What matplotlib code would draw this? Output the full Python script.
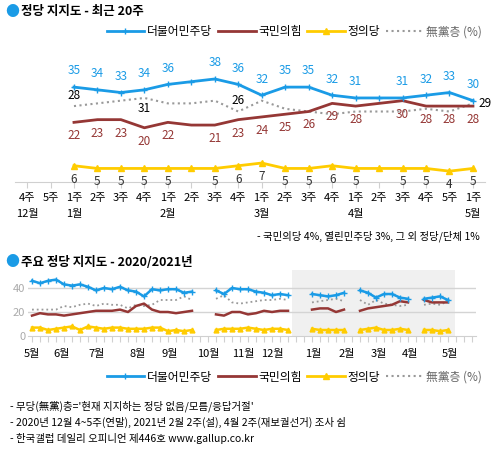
import numpy as np
import matplotlib
matplotlib.use("Agg")
import matplotlib.pyplot as plt
from matplotlib.transforms import blended_transform_factory as btf

plt.rcParams['font.family'] = ['Noto Sans CJK KR', 'DejaVu Sans']

BLUE = '#1a9be6'; RED = '#953735'; YEL = '#ffcc00'; GRAY = '#999999'
names = ['더불어민주당', '국민의힘', '정의당', '無黨층 (%)']

# ---- top chart data (last 20 weeks) ----
week_labels = ['4주','5주','1주','2주','3주','4주','1주','2주','3주','4주',
               '1주','2주','3주','4주','1주','2주','3주','4주','5주','1주']
month_labels_top = {0: '12월', 2: '1월', 6: '2월', 10: '3월', 14: '4월', 19: '5월'}
top_blue = [35,34,33,34,36,37,38,36,32,35,35,32,31,31,31,32,33,30]
top_red = [22,23,23,20,22,21,21,23,24,25,26,29,28,29,30,28,28,28]
top_gray = [28,29,30,31,29,29,30,26,30,27,26,25,26,26,26,27,26,29]
top_yel = [6,5,5,5,5,5,5,6,7,5,5,6,5,5,5,5,4,5]
unlabeled = [5, 13]

# ---- bottom chart data (2020/2021 weekly) ----
n = np.nan
b_blue = [46,44,46,47,43,42,43,41,38,40,39,41,38,37,33,39,38,39,39,36,37, n,n,
          38,35,40,39,39,37,36,34,35,34, n,n,
          35,34,33,34,36, n, 38,36,32,35,35,32,31, n, 31,32,33,30]
b_red = [17,19,18,18,17,18,19,20,21,21,21,22,20,25,27,22,20,20,19,20,21, n,n,
         18,17,20,20,18,19,21,20,21,21, n,n,
         22,23,23,20,22, n, 21,23,24,25,26,29,28, n, 30,28,28,28]
b_gray = [22,22,22,22,25,24,26,27,25,27,26,26,23,26,25,26,30,30,30,33,30, n,n,
          31,34,28,27,28,29,30,30,31,30, n,n,
          28,29,30,31,29, n, 30,26,30,27,26,25,26, n, 26,27,26,29]
b_yel = [7,7,5,6,7,8,5,8,7,6,7,7,6,6,6,7,7,4,5,4,5, n,n,
         5,6,6,6,7,6,5,6,6,5, n,n,
         6,5,5,5,5, n, 5,6,7,5,5,6,5, n, 5,5,4,5]
month_names_bot = ['5월','6월','7월','8월','9월','10월','11월','12월','1월','2월','3월','4월','5월']
month_pos_bot = [0,3.75,8.1,13.25,17.25,22.1,26.4,30.1,35.1,39.4,43.4,47.25,52.25]

fig = plt.figure(figsize=(4.99, 4.54), dpi=100)

# titles
fig.text(12/499, 1-12/454, '●', color=BLUE, fontsize=10, ha='center', va='center')
fig.text(21/499, 1-12/454, '정당 지지도 - 최근 20주', fontsize=9, weight='bold', va='center')
fig.text(12/499, 1-262/454, '●', color=BLUE, fontsize=10, ha='center', va='center')
fig.text(21/499, 1-262/454, '주요 정당 지지도 - 2020/2021년', fontsize=9, weight='bold', va='center')

def legend_at(y):
    from matplotlib.lines import Line2D
    h = [Line2D([], [], color=BLUE, lw=2, marker='+', ms=4),
         Line2D([], [], color=RED, lw=2),
         Line2D([], [], color=YEL, lw=2, marker='^', ms=4),
         Line2D([], [], color=GRAY, lw=1.5, ls=':')]
    lg = fig.legend(h, names, loc='center right', bbox_to_anchor=(488/499, 1-y/454), ncol=4,
                    frameon=False, fontsize=8.5, handlelength=3.2, columnspacing=0.5,
                    handletextpad=0.2, borderpad=0)
    for t in lg.get_texts()[3:]:
        t.set_color('#666666')

legend_at(32)
legend_at(377)

# ---- top axes ----
ax = fig.add_axes([15.3/499, 1-182/454, 469.4/499, 122/454])
x = np.arange(2, 20)
ax.set_xlim(-0.5, 19.5); ax.set_ylim(0, 45)
ax.plot(x, top_gray, color=GRAY, lw=1.5, ls=':')
ax.plot(x, top_red, color=RED, lw=2)
ax.plot(x, top_blue, color=BLUE, lw=2, marker='+', ms=5, mew=1)
ax.plot(x, top_yel, color=YEL, lw=2, marker='^', ms=5)
for i, xi in enumerate(x):
    if i in unlabeled:
        continue
    ax.annotate(str(top_blue[i]), (xi, top_blue[i]), xytext=(0, 7), textcoords='offset points',
                ha='center', va='bottom', color=BLUE, fontsize=8.5)
    ax.annotate(str(top_red[i]), (xi, top_red[i]), xytext=(0, -5), textcoords='offset points',
                ha='center', va='top', color=RED, fontsize=8.5)
    ax.annotate(str(top_yel[i]), (xi, top_yel[i]), xytext=(0, -5), textcoords='offset points',
                ha='center', va='top', color='#333333', fontsize=8.5)
for i, dy, va in [(0, 3, 'bottom'), (3, -3, 'top'), (7, 3, 'bottom')]:
    ax.annotate(str(top_gray[i]), (x[i], top_gray[i]), xytext=(0, dy), textcoords='offset points',
                ha='center', va=va, color='black', fontsize=8.5)
ax.annotate(str(top_gray[17]), (x[17], top_gray[17]), xytext=(4, 0), textcoords='offset points',
            ha='left', va='center', color='black', fontsize=8.5)
for s in ['top', 'right', 'left']:
    ax.spines[s].set_visible(False)
ax.spines['bottom'].set_color('#d0d0d0')
ax.set_yticks([])
ax.set_xticks(range(20))
ax.set_xticklabels(week_labels, fontsize=8)
ax.tick_params(axis='x', length=4, color='#d0d0d0', pad=4)
tr = btf(ax.transData, fig.transFigure)
for k, m in month_labels_top.items():
    ax.text(k, 1-214/454, m, transform=tr, ha='center', va='center', fontsize=8)
fig.text(480/499, 1-236/454, '- 국민의당 4%, 열린민주당 3%, 그 외 정당/단체 1%', ha='right', va='center', fontsize=7.5)

# ---- bottom axes ----
bx = fig.add_axes([28/499, 1-336/454, 448/499, 66/454])
xb = np.arange(len(b_blue))
bx.set_xlim(-0.5, 55.5); bx.set_ylim(0, 55)
bx.axvspan(32.5, 52.9, color='#f0f0f0', lw=0, zorder=0)
for yv in [20, 40]:
    bx.axhline(yv, color='#d4d4d4', lw=1, zorder=1)
bx.plot(xb, b_gray, color=GRAY, lw=1.3, ls=':', zorder=2)
bx.plot(xb, b_red, color=RED, lw=1.8, zorder=3)
bx.plot(xb, b_blue, color=BLUE, lw=1.8, marker='+', ms=4, mew=1, zorder=4)
bx.plot(xb, b_yel, color=YEL, lw=1.8, marker='^', ms=3.5, zorder=4)
for s in ['top', 'right', 'left']:
    bx.spines[s].set_visible(False)
bx.spines['bottom'].set_color('#d0d0d0')
bx.set_yticks([0, 20, 40])
bx.set_yticklabels(['0', '20', '40'], fontsize=8, color='#aaaaaa')
bx.tick_params(axis='y', length=0, pad=2)
bx.set_xticks(range(56))
bx.set_xticklabels([])
bx.tick_params(axis='x', length=4, color='#d0d0d0')
trb = btf(bx.transData, fig.transFigure)
for p, m in zip(month_pos_bot, month_names_bot):
    bx.text(p, 1-354/454, m, transform=trb, ha='center', va='center', fontsize=8)

notes = ["- 무당(無黨)층='현재 지지하는 정당 없음/모름/응답거절'",
         "- 2020년 12월 4~5주(연말), 2021년 2월 2주(설), 4월 2주(재보궐선거) 조사 쉼",
         "- 한국갤럽 데일리 오피니언 제446호 www.gallup.co.kr"]
for k, t in enumerate(notes):
    fig.text(10/499, 1-(406+16.5*k)/454, t, fontsize=7.5, va='center')

fig.savefig('out.png', dpi=100)
